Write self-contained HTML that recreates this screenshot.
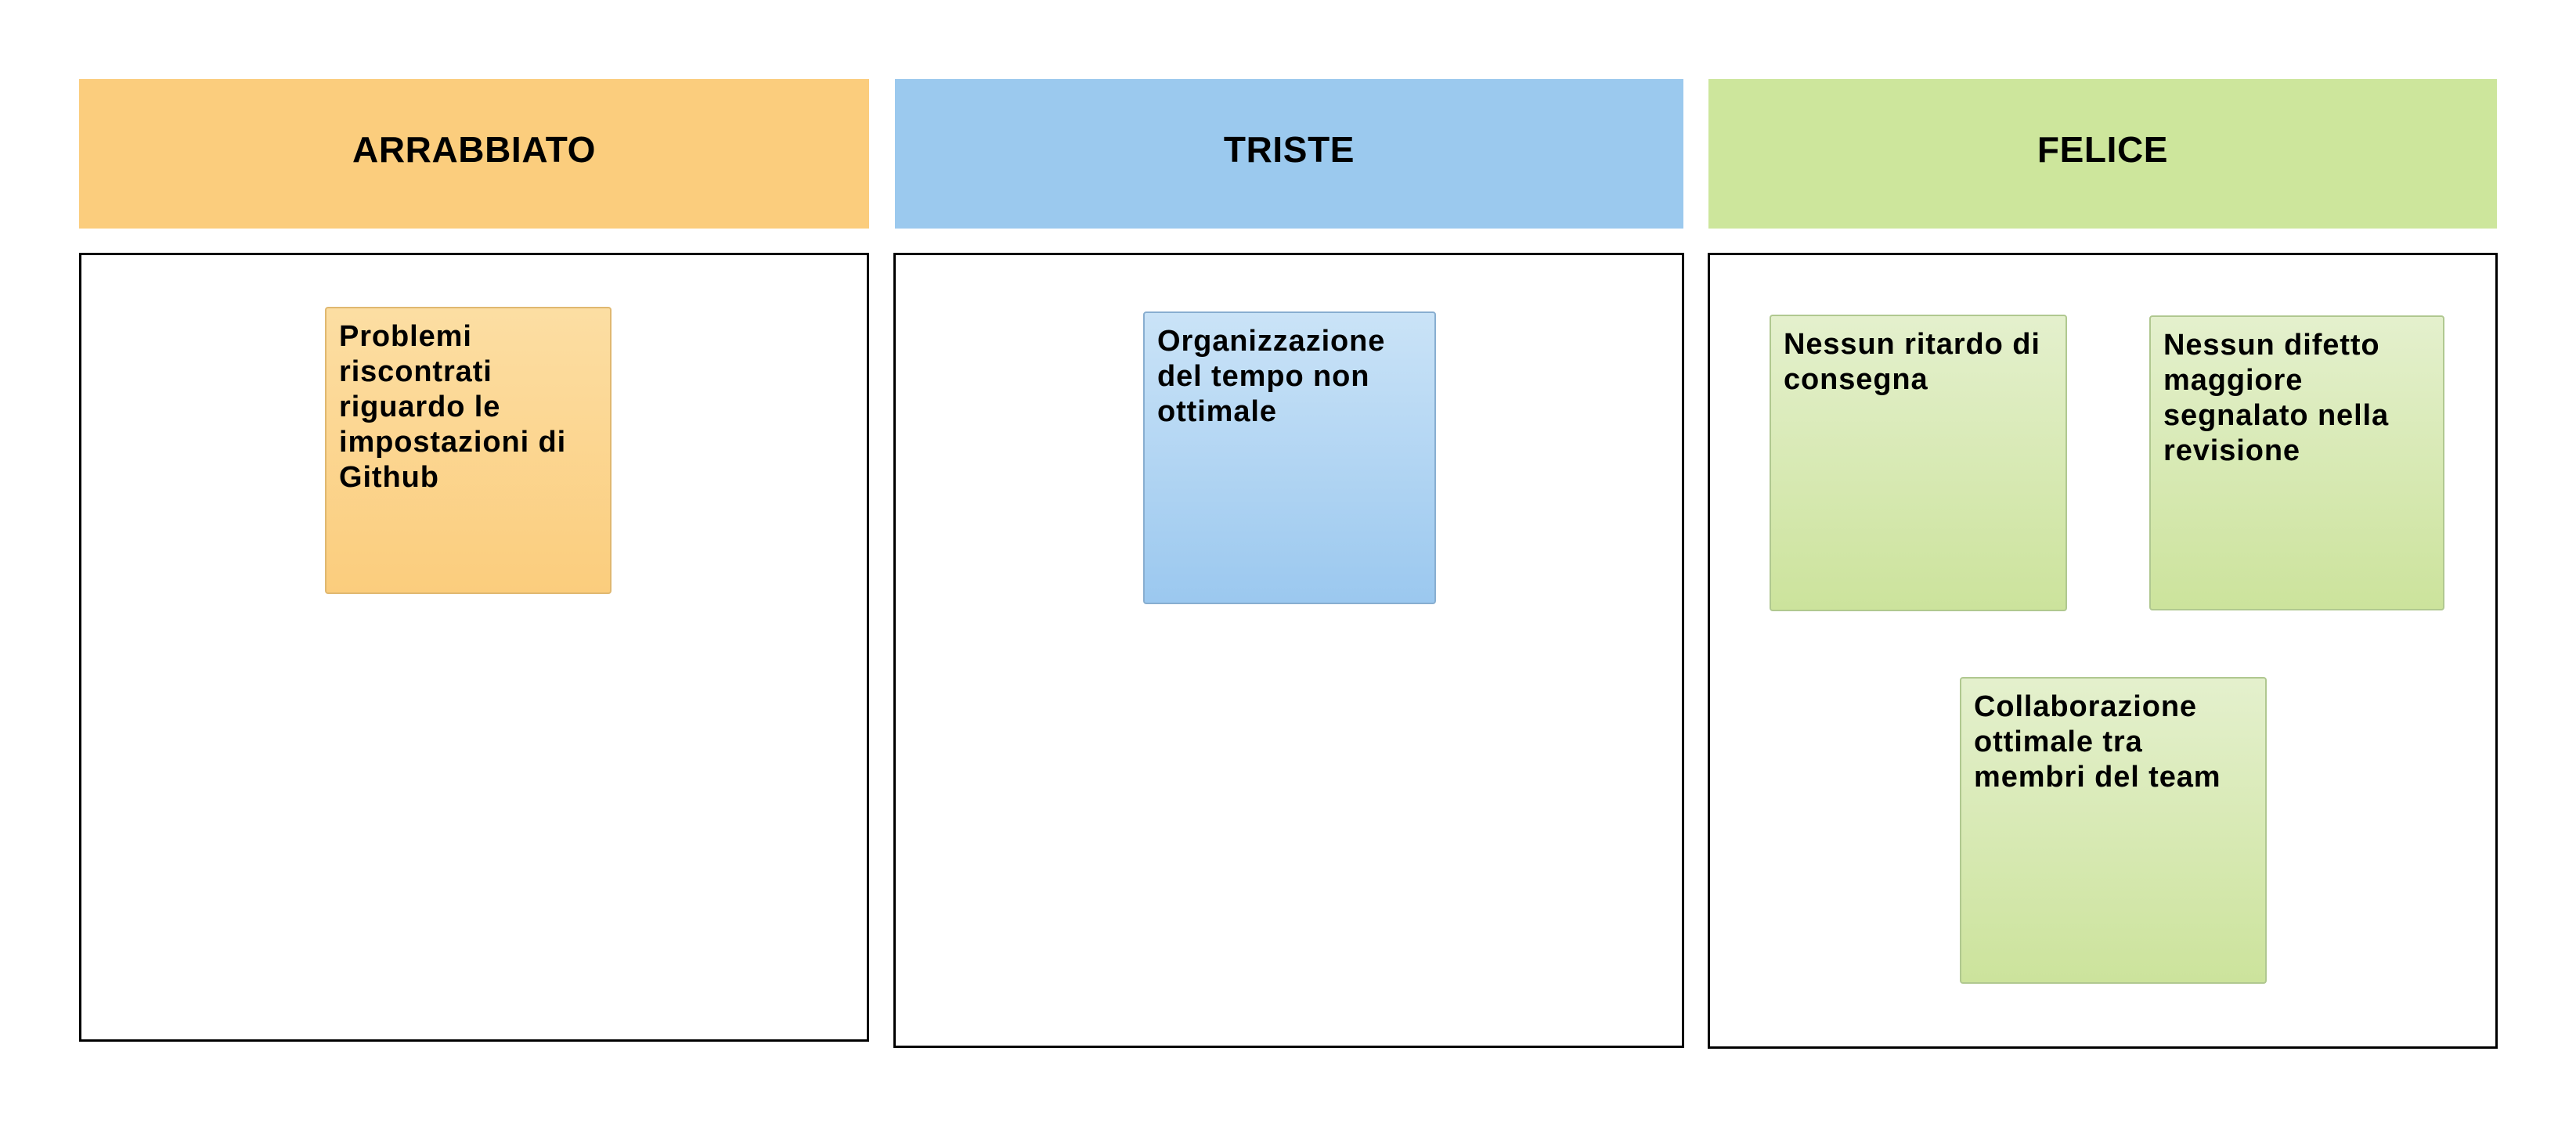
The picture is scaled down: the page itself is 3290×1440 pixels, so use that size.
<!DOCTYPE html>
<html><head><meta charset="utf-8"><style>
body{margin:0;width:3290px;height:1440px;background:#fff;position:relative;overflow:hidden;font-family:"Liberation Sans",Arial,sans-serif;font-weight:bold;color:#000}
.h{position:absolute;top:101px;height:191px;display:flex;align-items:center;justify-content:center;font-size:46px;letter-spacing:0.6px;padding-bottom:12px;box-sizing:border-box}
.b{position:absolute;top:323px;border:3px solid #000;box-sizing:border-box}
.s{position:absolute;box-sizing:border-box;border-radius:4px;padding:14px 16px;font-size:38px;line-height:45px;letter-spacing:0.9px}
.o{background:linear-gradient(#fcdea3,#fbcd7d);border:2px solid #e0b870}
.bl{background:linear-gradient(#cae3f7,#9bc8ef);border:2px solid #88aed0}
.g{background:linear-gradient(#e4f0cd,#cce39c);border:2px solid #b0c890}
</style></head><body>
<div class="h" style="left:101px;width:1009px;background:#fbcd7d">ARRABBIATO</div>
<div class="h" style="left:1143px;width:1007px;background:#9bc9ee">TRISTE</div>
<div class="h" style="left:2182px;width:1007px;background:#cde69c">FELICE</div>
<div class="b" style="left:101px;width:1009px;height:1008px"></div>
<div class="b" style="left:1141px;width:1010px;height:1016px"></div>
<div class="b" style="left:2181px;width:1009px;height:1017px"></div>
<div class="s o" style="left:415px;top:392px;width:366px;height:367px">Problemi riscontrati riguardo le impostazioni di Github</div>
<div class="s bl" style="left:1460px;top:398px;width:374px;height:374px">Organizzazione del tempo non ottimale</div>
<div class="s g" style="left:2260px;top:402px;width:380px;height:379px">Nessun ritardo di consegna</div>
<div class="s g" style="left:2745px;top:403px;width:377px;height:377px">Nessun difetto maggiore segnalato nella revisione</div>
<div class="s g" style="left:2503px;top:865px;width:392px;height:392px">Collaborazione ottimale tra membri del team</div>
</body></html>
